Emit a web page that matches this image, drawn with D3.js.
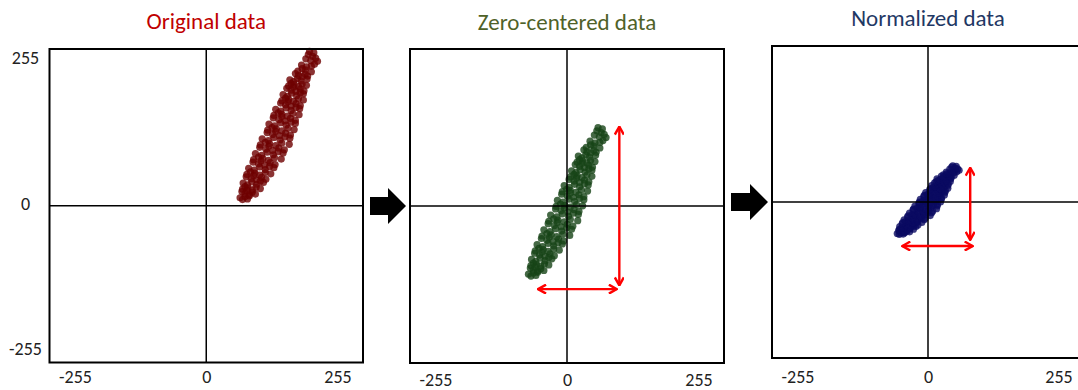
<!DOCTYPE html>
<html>
<head>
<meta charset="utf-8">
<script src="https://cdn.jsdelivr.net/npm/d3@7"></script>
<style>
  html, body { margin: 0; padding: 0; background: #fff; }
  svg { display: block; font-family: Calibri, Carlito, Lato, sans-serif; }
</style>
</head>
<body>
<svg id="chart" width="1078" height="390"></svg>
<script>
// pixel values [x, y]
const originalPoints = [
  [55,13],[59,10],[63,15],[67,11],[70,16],
  [58,23],[63,20],[70,18],[75,22],[80,19],[66,25],
  [59,27],[63,31],[68,29],[75,26],[81,30],[88,28],
  [60,37],[67,34],[74,39],[82,35],[88,40],[93,38],
  [65,47],[73,44],[82,42],[90,46],[97,43],[77,49],
  [66,51],[72,55],[79,53],[87,50],[96,54],[105,52],
  [69,61],[78,58],[87,63],[96,59],[103,64],[110,62],
  [76,71],[85,68],[95,66],[104,70],[112,67],[89,73],
  [77,75],[85,79],[92,77],[101,74],[111,78],[122,76],
  [80,85],[90,82],[99,87],[109,83],[117,88],[125,86],
  [87,95],[97,92],[108,90],[118,94],[127,91],[102,97],
  [88,99],[96,103],[103,101],[113,98],[123,102],[135,100],
  [91,109],[101,106],[110,111],[120,107],[128,112],[136,110],
  [99,119],[108,116],[119,114],[129,118],[137,115],[113,121],
  [100,123],[107,127],[114,125],[123,122],[133,126],[143,124],
  [102,133],[111,130],[121,135],[130,131],[138,136],[145,134],
  [109,143],[118,140],[128,138],[137,142],[145,139],[123,145],
  [110,147],[117,151],[123,149],[132,146],[141,150],[151,148],
  [113,157],[121,154],[130,159],[138,155],[146,160],[152,158],
  [121,167],[129,164],[138,162],[146,166],[153,163],[133,169],
  [123,171],[129,175],[134,173],[142,170],[150,174],[158,172],
  [125,181],[132,178],[139,183],[147,179],[153,184],[158,182],
  [131,191],[138,188],[146,186],[153,190],[159,187],[142,193],
  [134,195],[138,199],[143,197],[150,194],[156,198],[163,196],
  [136,205],[142,202],[148,207],[154,203],[164,206],
  [145,215],[150,212],[156,210],[161,214],[165,211],
  [149,219],[156,223],[161,221],[171,218],
  [155,229],[163,226],[171,227],[176,230],
  [162,239],[170,236],[178,240],[181,235],
  [166,246],[173,243],[168,251],[175,249]
];

const axisExtent = [-255, 255];
const tickValues = [-255, 0, 255];
const panelTitles = ["Original data", "Zero-centered data", "Normalized data"];
const titleColors = ["#c00000", "#4f6228", "#1f3864"];
const pointColors = ["#6e0000", "#174417", "#0a0a62"];
// red range arrows in data units: [x1, y1, x2, y2]
const centeredRangeArrows = [[85, 129, 85, -129], [-47, -135, 81, -135]];
const normalizedRangeArrows = [[69, 56, 69, -62], [-42, -72, 73, -72]];
// display spread (data units per standard deviation) of the normalized cloud
const normSpreadX = 26;
const normSpreadY = 31;

// zero-center and normalize the original cloud
const meanX = d3.mean(originalPoints, d => d[0]);
const meanY = d3.mean(originalPoints, d => d[1]);
const centeredPoints = originalPoints.map(d => [d[0] - meanX, d[1] - meanY]);
const sdX = d3.deviation(centeredPoints, d => d[0]);
const sdY = d3.deviation(centeredPoints, d => d[1]);
const normalizedPoints = centeredPoints.map(d => [d[0] / sdX * normSpreadX, d[1] / sdY * normSpreadY]);

const panels = [
  { points: originalPoints, arrows: [], left: 49.5, top: 49, size: 313.5, titleY: 29, labelY: 383, yLabels: true, r: 3.6 },
  { points: centeredPoints, arrows: centeredRangeArrows, left: 410, top: 49, size: 314, titleY: 30, labelY: 385.5, yLabels: false, r: 3.6 },
  { points: normalizedPoints, arrows: normalizedRangeArrows, left: 772, top: 46, size: 312, titleY: 26, labelY: 383, yLabels: false, r: 3.6 }
];

const svg = d3.select("#chart");

svg.append("defs").append("marker")
  .attr("id", "redHead")
  .attr("viewBox", "0 0 10 10")
  .attr("refX", 9).attr("refY", 5)
  .attr("markerWidth", 10).attr("markerHeight", 10)
  .attr("markerUnits", "userSpaceOnUse")
  .attr("orient", "auto-start-reverse")
  .append("path")
    .attr("d", "M1,0.5 L9,5 L1,9.5")
    .attr("fill", "none")
    .attr("stroke", "#ff0000")
    .attr("stroke-width", 2.4);

panels.forEach((p, i) => {
  const x = d3.scaleLinear().domain(axisExtent).range([p.left, p.left + p.size]);
  const y = d3.scaleLinear().domain(axisExtent).range([p.top + p.size, p.top]);
  // labels sit a little inside the frame corners
  const xLab = d3.scaleLinear().domain(axisExtent).range([p.left + 26, p.left + p.size - 25]);
  const yLab = d3.scaleLinear().domain(axisExtent).range([p.top + p.size - 13, p.top + 9]);

  const g = svg.append("g");

  g.append("text")
    .attr("x", x(0)).attr("y", p.titleY)
    .attr("text-anchor", "middle")
    .attr("font-size", 23)
    .attr("fill", titleColors[i])
    .text(panelTitles[i]);

  g.append("g").selectAll("circle")
    .data(p.points)
    .join("circle")
      .attr("cx", d => x(d[0]))
      .attr("cy", d => y(d[1]))
      .attr("r", p.r)
      .attr("fill", pointColors[i])
      .attr("fill-opacity", 0.8);

  g.append("line")
    .attr("x1", x(0)).attr("x2", x(0))
    .attr("y1", y(axisExtent[1])).attr("y2", y(axisExtent[0]))
    .attr("stroke", "#000").attr("stroke-width", 1.5);
  g.append("line")
    .attr("x1", x(axisExtent[0])).attr("x2", x(axisExtent[1]))
    .attr("y1", y(0)).attr("y2", y(0))
    .attr("stroke", "#000").attr("stroke-width", 1.5);

  g.append("rect")
    .attr("x", x(axisExtent[0])).attr("y", y(axisExtent[1]))
    .attr("width", x(axisExtent[1]) - x(axisExtent[0]))
    .attr("height", y(axisExtent[0]) - y(axisExtent[1]))
    .attr("fill", "none").attr("stroke", "#000").attr("stroke-width", 2);

  g.selectAll(".range-arrow")
    .data(p.arrows)
    .join("line")
      .attr("class", "range-arrow")
      .attr("x1", d => x(d[0])).attr("y1", d => y(d[1]))
      .attr("x2", d => x(d[2])).attr("y2", d => y(d[3]))
      .attr("stroke", "#ff0000").attr("stroke-width", 2.4)
      .attr("marker-start", "url(#redHead)")
      .attr("marker-end", "url(#redHead)");

  g.selectAll(".xlab")
    .data(tickValues)
    .join("text")
      .attr("class", "xlab")
      .attr("x", d => xLab(d)).attr("y", p.labelY)
      .attr("text-anchor", "middle")
      .attr("font-size", 18)
      .attr("fill", "#222")
      .text(d => d);

  if (p.yLabels) {
    g.selectAll(".ylab")
      .data(tickValues)
      .join("text")
        .attr("class", "ylab")
        .attr("x", p.left - 24).attr("y", d => yLab(d))
        .attr("dy", "0.32em")
        .attr("text-anchor", "middle")
        .attr("font-size", 18)
        .attr("fill", "#222")
        .text(d => d);
  }

  // black block arrow leading into the next panel
  const next = panels[i + 1];
  if (next) {
    const x0 = p.left + p.size + 7, x1 = next.left - 4;
    const cy = next.top + next.size / 2;
    const head = 18, shaft = 9, half = 18;
    g.append("path")
      .attr("d", `M${x0},${cy - shaft} L${x1 - head},${cy - shaft} L${x1 - head},${cy - half} L${x1},${cy} L${x1 - head},${cy + half} L${x1 - head},${cy + shaft} L${x0},${cy + shaft} Z`)
      .attr("fill", "#000");
  }
});
</script>
</body>
</html>
